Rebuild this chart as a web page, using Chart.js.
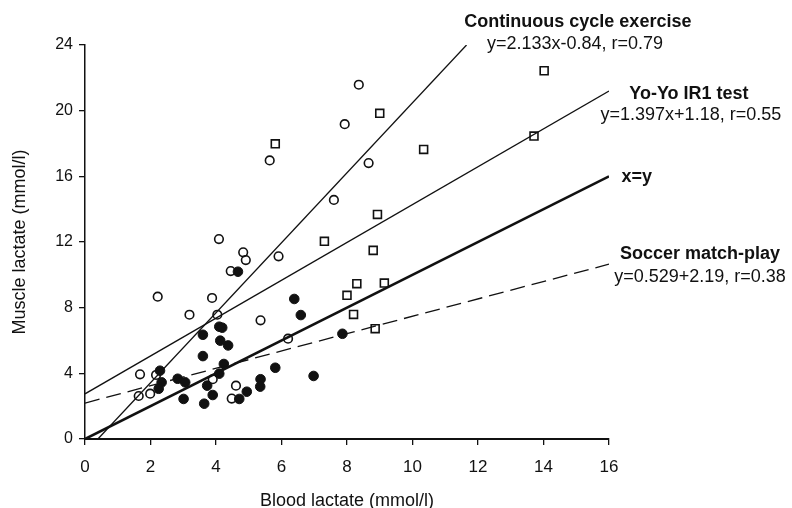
<!DOCTYPE html>
<html>
<head>
<meta charset="utf-8">
<script src="https://cdn.jsdelivr.net/npm/chart.js@4/dist/chart.umd.min.js"></script>
<style>
  html, body { margin: 0; padding: 0; background: #fff; }
  #wrap { width: 792px; height: 508px; }
</style>
</head>
<body>
<div id="wrap"><canvas id="myChart" width="792" height="508"></canvas></div>
<script>
// Open circles: continuous cycle exercise
let cycleBlood  = [8.36, 7.93, 5.64, 8.66, 7.6, 4.09, 4.83, 4.91, 4.45, 5.91, 2.22, 3.88, 3.19, 4.04, 5.36, 6.2, 1.68, 2.17, 3.9, 4.61, 1.64, 1.99, 4.48];
let cycleMuscle = [21.58, 19.18, 16.97, 16.81, 14.56, 12.18, 11.37, 10.9, 10.23, 11.13, 8.67, 8.59, 7.57, 7.57, 7.23, 6.11, 3.94, 3.9, 3.64, 3.25, 2.62, 2.76, 2.46];
// Filled circles: soccer match-play
let soccerBlood  = [4.67, 3.6, 4.1, 4.19, 4.13, 4.37, 3.6, 4.24, 4.1, 2.29, 2.34, 2.25, 2.83, 3.06, 3.01, 3.73, 3.9, 3.64, 4.71, 4.94, 5.36, 5.35, 5.81, 6.39, 6.59, 6.98, 7.86];
let soccerMuscle = [10.19, 6.35, 6.84, 6.78, 5.99, 5.7, 5.05, 4.57, 3.98, 4.16, 3.45, 3.06, 3.67, 3.45, 2.44, 3.25, 2.68, 2.15, 2.44, 2.88, 3.64, 3.19, 4.34, 8.53, 7.55, 3.84, 6.41];
// Open squares: Yo-Yo IR1 test
let yoyoBlood  = [5.81, 9.0, 10.34, 14.02, 13.71, 7.31, 8.93, 8.8, 8.3, 9.14, 8.0, 8.2, 8.86];
let yoyoMuscle = [17.98, 19.84, 17.64, 22.43, 18.45, 12.04, 13.68, 11.49, 9.46, 9.5, 8.75, 7.59, 6.72];

// Regression lines as drawn (end points in data units)
let cycleLineX  = [0.394, 11.65];
let cycleLineY  = [0, 24];
let yoyoLineX   = [0, 16];
let yoyoLineY   = [2.75, 21.2];
let identityX   = [0, 16];
let identityY   = [0, 16];
let soccerLineX = [0, 16];
let soccerLineY = [2.19, 10.65];

let xTicks = [0, 2, 4, 6, 8, 10, 12, 14, 16];
let yTicks = [0, 4, 8, 12, 16, 20, 24];

// Line labels, anchored in data units
let labelText = ["Continuous cycle exercise", "y=2.133x-0.84, r=0.79", "Yo-Yo IR1 test", "y=1.397x+1.18, r=0.55", "x=y", "Soccer match-play", "y=0.529+2.19, r=0.38"];
let labelBold = [true, false, true, false, true, true, false];
let labelX = [15.05, 14.96, 18.44, 18.5, 16.85, 18.78, 18.78];
let labelY = [25.4, 24.06, 21.01, 19.74, 15.96, 11.26, 9.86];

function pts(xs, ys) {
  return xs.map((x, i) => ({ x: x, y: ys[i] }));
}

const ink = '#111';

const lineLabels = {
  id: 'lineLabels',
  afterDraw(chart) {
    let ctx = chart.ctx;
    let xs = chart.scales.x, ys = chart.scales.y;
    ctx.save();
    ctx.fillStyle = ink;
    ctx.textAlign = 'center';
    ctx.textBaseline = 'middle';
    for (let i = 0; i < labelText.length; i++) {
      ctx.font = (labelBold[i] ? 'bold ' : '') + '18px "Liberation Sans", Arial, sans-serif';
      ctx.fillText(labelText[i], xs.getPixelForValue(labelX[i]), ys.getPixelForValue(labelY[i]));
    }
    ctx.restore();
  }
};

let ctx = document.getElementById('myChart').getContext('2d');
let myChart = new Chart(ctx, {
  type: 'scatter',
  data: {
    datasets: [
      { type: 'line', data: pts(cycleLineX, cycleLineY), borderColor: ink, borderWidth: 1.3, pointRadius: 0, fill: false },
      { type: 'line', data: pts(yoyoLineX, yoyoLineY), borderColor: ink, borderWidth: 1.3, pointRadius: 0, fill: false },
      { type: 'line', data: pts(identityX, identityY), borderColor: ink, borderWidth: 2.6, pointRadius: 0, fill: false },
      { type: 'line', data: pts(soccerLineX, soccerLineY), borderColor: ink, borderWidth: 1.3, borderDash: [15, 7], pointRadius: 0, fill: false },
      { data: pts(cycleBlood, cycleMuscle), pointStyle: 'circle', pointRadius: 4.3, borderWidth: 1.6, borderColor: ink, backgroundColor: 'rgba(0,0,0,0)' },
      { data: pts(soccerBlood, soccerMuscle), pointStyle: 'circle', pointRadius: 4.8, borderWidth: 1, borderColor: ink, backgroundColor: ink },
      { data: pts(yoyoBlood, yoyoMuscle), pointStyle: 'rect', pointRadius: 5.6, borderWidth: 1.6, borderColor: ink, backgroundColor: 'rgba(0,0,0,0)' }
    ]
  },
  options: {
    responsive: false,
    animation: false,
    events: [],
    layout: { padding: { left: 0, top: 45, right: 183, bottom: 0 } },
    plugins: { legend: { display: false }, tooltip: { enabled: false } },
    scales: {
      x: {
        type: 'linear', min: 0, max: 16,
        afterBuildTicks: s => { s.ticks = xTicks.map(v => ({ value: v })); },
        afterFit: s => { s.height = 69; },
        grid: { drawOnChartArea: false, drawTicks: true, tickLength: 6, color: ink, lineWidth: 1.3 },
        border: { display: true, color: ink, width: 2 },
        ticks: { color: ink, padding: 12, font: { family: '"Liberation Sans", Arial, sans-serif', size: 17 }, maxRotation: 0 },
        title: { display: true, text: 'Blood lactate (mmol/l)', color: ink, padding: { top: 0, bottom: 0 }, font: { family: '"Liberation Sans", Arial, sans-serif', size: 18, lineHeight: 0.8 } }
      },
      y: {
        type: 'linear', min: 0, max: 24,
        afterBuildTicks: s => { s.ticks = yTicks.map(v => ({ value: v })); },
        afterFit: s => { s.width = 85; },
        grid: { drawOnChartArea: false, drawTicks: true, tickLength: 6, color: ink, lineWidth: 1.3 },
        border: { display: true, color: ink, width: 1.5 },
        ticks: { color: ink, padding: 6, font: { family: '"Liberation Sans", Arial, sans-serif', size: 16 } },
        title: { display: true, text: 'Muscle lactate (mmol/l)', color: ink, padding: { top: 9, bottom: 0 }, font: { family: '"Liberation Sans", Arial, sans-serif', size: 18 } }
      }
    }
  },
  plugins: [lineLabels]
});
</script>
</body>
</html>
